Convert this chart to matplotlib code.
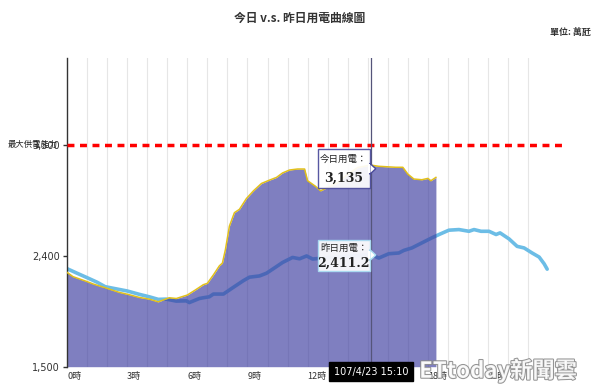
import matplotlib
matplotlib.use("Agg")
import matplotlib.pyplot as plt
import matplotlib.patheffects as pe
from matplotlib.patches import Rectangle, Polygon

plt.rcParams['font.family'] = ['Noto Sans CJK TC', 'DejaVu Sans']

# ---- data (萬瓩) ----
today_h = [0, 0.3, 1.0, 1.3, 2.0, 2.6, 3.05, 3.6, 4.1, 4.55, 5.1, 5.45, 6.0, 6.4,
           6.8, 7.0, 7.3, 7.6, 7.75, 7.9, 8.1, 8.35, 8.6, 8.95, 9.3, 9.7, 10.1,
           10.45, 10.75, 11.1, 11.5, 11.85, 12.0, 12.4, 12.65, 13.0, 13.5, 14.0,
           14.5, 15.15, 15.55, 16.4, 16.75, 17.0, 17.3, 17.7, 18.0, 18.15, 18.4]
today_v = [2265, 2230, 2190, 2171, 2135, 2103, 2086, 2062, 2048, 2026, 2059, 2053,
           2081, 2122, 2165, 2176, 2244, 2318, 2340, 2449, 2640, 2749, 2776, 2864,
           2926, 2986, 3013, 3035, 3071, 3095, 3103, 3103, 3008, 2962, 2926, 2953,
           2990, 3060, 3115, 3135, 3125, 3117, 3117, 3062, 3022, 3016, 3027, 3008,
           3035]

yest_h = [0, 0.5, 1.0, 1.5, 1.9, 2.3, 3.0, 3.6, 4.1, 4.55, 4.95, 5.45, 5.95, 6.1,
          6.6, 6.8, 7.1, 7.3, 7.8, 8.3, 8.8, 9.1, 9.6, 9.95, 10.45, 10.75, 11.25,
          11.6, 11.95, 12.25, 13.0, 14.0, 14.5, 15.15, 15.55, 16.05, 16.55, 16.8,
          17.2, 17.7, 18.2, 18.6, 19.05, 19.55, 20.05, 20.3, 20.65, 21.05, 21.4,
          21.6, 22.05, 22.45, 22.8, 23.2, 23.55, 23.8, 23.95]
yest_v = [2295, 2258, 2222, 2185, 2149, 2136, 2114, 2087, 2067, 2046, 2048, 2032,
          2034, 2020, 2053, 2059, 2067, 2089, 2089, 2144, 2198, 2226, 2236, 2258,
          2312, 2345, 2386, 2375, 2398, 2373, 2385, 2395, 2400, 2411, 2381, 2416,
          2422, 2443, 2463, 2504, 2545, 2575, 2607, 2612, 2598, 2612, 2598, 2598,
          2572, 2585, 2536, 2476, 2463, 2422, 2389, 2334, 2291]

max_supply = 3300
cursor_h = 15 + 10 / 60
cursor_label = "107/4/23 15:10"
today_tip = "3,135"
yest_tip = "2,411.2"

y_ticks = [1500, 2400, 3300]
x_ticks = [0, 3, 6, 9, 12, 15, 18, 21]

# ---- figure ----
fig = plt.figure(figsize=(6, 3.88), dpi=100)
ax = fig.add_axes([0.1117, 0.0549, 0.83, 0.7946])
ax.set_xlim(0, 24.84)
ax.set_ylim(1500, 4000)

for h in range(1, 24):
    ax.axvline(h, color='#e6e6e6', lw=0.8, zorder=0)

# yesterday line sits under the semi-transparent fill (darker where covered)
ax.plot(yest_h, yest_v, color='#6cbde6', lw=2.6, zorder=1, solid_capstyle='round')
ax.fill_between(today_h, today_v, 1500, color='#3a3a9e', alpha=0.65, lw=0, zorder=2)
ax.plot(today_h, today_v, color='#e2c01a', lw=1.1, zorder=3)

ax.axhline(max_supply, color='#ff0000', lw=2.5, ls=(0, (2, 1.6)), zorder=4)
ax.axvline(cursor_h, color='#55557a', lw=0.9, zorder=4)

for s in ['top', 'right', 'bottom']:
    ax.spines[s].set_visible(False)
ax.spines['left'].set_color('#333333')
ax.spines['left'].set_linewidth(1)

ax.set_yticks(y_ticks)
ax.set_yticklabels([f"{v:,}" for v in y_ticks], fontsize=7, color='#333333',
                   family=['DejaVu Sans'])
ax.tick_params(axis='y', length=3, width=1, color='#333333', pad=2)
ax.set_xticks(x_ticks)
ax.set_xticklabels([f"{h}時" for h in x_ticks], fontsize=6.5, color='#333333',
                   ha='left')
ax.tick_params(axis='x', length=0, pad=4)

ax.text(-0.45, max_supply, "最大供電能力", fontsize=6, ha='right', va='center',
        color='#222222', clip_on=False, zorder=5)

# tooltips
ax.add_patch(Rectangle((12.5, 2945), 2.6, 320, facecolor='white', alpha=0.92,
                       edgecolor='#4a4a9a', lw=1, zorder=6))
ax.add_patch(Polygon([(15.1, 3060), (15.1, 3150), (15.4, 3105)], closed=True,
                     facecolor='white', edgecolor='#4a4a9a', lw=1, zorder=6))
ax.add_patch(Rectangle((15.0, 3070), 0.12, 70, facecolor='white', lw=0, zorder=6.5))
ax.text(13.8, 3185, "今日用電：", fontsize=6.8, ha='center', va='center',
        color='#222222', zorder=7)
ax.text(13.8, 3030, today_tip, fontsize=9, fontweight='bold', ha='center',
        va='center', color='#222222', family=['DejaVu Serif'], zorder=7)

ax.add_patch(Rectangle((12.5, 2275), 2.6, 255, facecolor='white', alpha=0.92,
                       edgecolor='#a9dcf2', lw=1, zorder=6))
ax.add_patch(Polygon([(15.1, 2360), (15.1, 2450), (15.4, 2405)], closed=True,
                     facecolor='white', edgecolor='#a9dcf2', lw=1, zorder=6))
ax.add_patch(Rectangle((15.0, 2370), 0.12, 70, facecolor='white', lw=0, zorder=6.5))
ax.text(13.8, 2465, "昨日用電：", fontsize=6.8, ha='center', va='center',
        color='#222222', zorder=7)
ax.text(13.8, 2335, yest_tip, fontsize=9, fontweight='bold', ha='center',
        va='center', color='#222222', family=['DejaVu Serif'], zorder=7)

# cursor time label
ax.text(cursor_h, 1500, cursor_label, fontsize=7, color='white', ha='center',
        va='top', clip_on=False, zorder=10, family=['DejaVu Sans'],
        bbox=dict(boxstyle='square,pad=0.45', facecolor='black', edgecolor='black'))

fig.text(0.5, 0.953, "今日 v.s. 昨日用電曲線圖", ha='center', va='center',
         fontsize=8.5, color='#333333', fontweight='bold')
fig.text(0.985, 0.915, "單位: 萬瓩", ha='right', va='center', fontsize=6.5,
         color='#333333', fontweight='bold')

# watermark
fig.text(0.83, 0.045, "ETtoday新聞雲", ha='center', va='center', fontsize=16,
         color='white', alpha=0.9, fontweight='bold',
         path_effects=[pe.withStroke(linewidth=1.5, foreground='#8a8a8a')])

fig.savefig("out.png", dpi=100)
